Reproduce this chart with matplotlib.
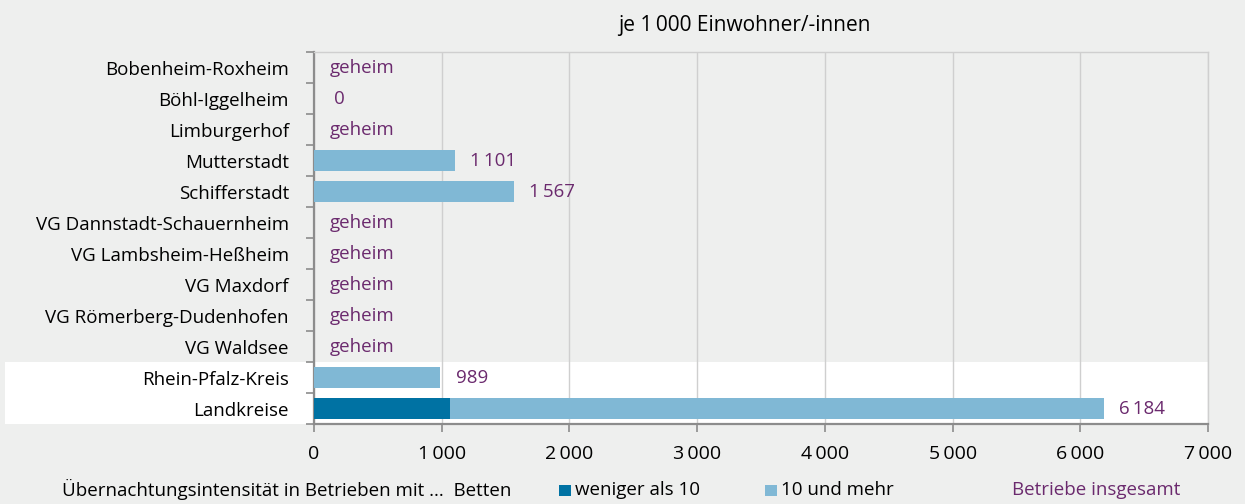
import matplotlib.pyplot as plt
from matplotlib.patches import Rectangle
from matplotlib.transforms import blended_transform_factory

plt.rcParams['font.family'] = ['Open Sans', 'DejaVu Sans']

gemeinden = ["Bobenheim-Roxheim", "Böhl-Iggelheim", "Limburgerhof", "Mutterstadt",
             "Schifferstadt", "VG Dannstadt-Schauernheim", "VG Lambsheim-Heßheim",
             "VG Maxdorf", "VG Römerberg-Dudenhofen", "VG Waldsee",
             "Rhein-Pfalz-Kreis", "Landkreise"]
# None = secret ("geheim")
unter_10 = [None, 0, None, 0, 0, None, None, None, None, None, 0, 1065]
ab_10 = [None, 0, None, 1101, 1567, None, None, None, None, None, 989, 5119]
insgesamt = [None, 0, None, 1101, 1567, None, None, None, None, None, 989, 6184]

dark = '#0072a3'
light = '#80b8d5'
purple = '#6b2a6e'
bg = '#eeefee'
grid = '#cfcfcf'
spine = '#8c8c8c'
fs = 13.5


def fmt(v):
    return f"{v:,}".replace(",", "\u2009")


fig = plt.figure(figsize=(12.45, 5.04), dpi=100, facecolor=bg)
ax = fig.add_axes([0.2522, 0.1587, 0.9703 - 0.2522, 0.8968 - 0.1587])
ax.set_facecolor('none')

y = list(range(len(gemeinden)))
left_dark = [v or 0 for v in unter_10]
ax.barh(y, left_dark, height=0.66, color=dark, zorder=3)
ax.barh(y, [v or 0 for v in ab_10], left=left_dark, height=0.66, color=light, zorder=3)

for i, total in enumerate(insgesamt):
    if total is None:
        ax.text(120, i, "geheim", va='center', ha='left', color=purple, fontsize=fs)
    elif total == 0:
        ax.text(160, i, "0", va='center', ha='left', color=purple, fontsize=fs)
    else:
        ax.text(total + 120, i, fmt(total), va='center', ha='left', color=purple, fontsize=fs)

# white band behind the district rows
band = Rectangle((0.004, 9.5), 0.9703 - 0.004, 2.0, facecolor='white', edgecolor='none',
                 transform=blended_transform_factory(fig.transFigure, ax.transData),
                 zorder=-1)
fig.patches.append(band)

ax.set_xlim(0, 7000)
ax.set_ylim(11.5, -0.5)
ax.set_xticks(range(0, 7001, 1000))
ax.set_xticklabels([fmt(v) for v in range(0, 7001, 1000)], fontsize=14)
ax.set_yticks(y)
ax.set_yticklabels(gemeinden, fontsize=fs)
ax.set_yticks([i - 0.5 for i in range(len(gemeinden) + 1)], minor=True)
ax.tick_params(axis='y', which='major', length=0, pad=18)
ax.tick_params(axis='y', which='minor', length=6, width=1.2, color=spine)
ax.tick_params(axis='x', length=6, width=1.2, color=spine, pad=9)
ax.grid(axis='x', color=grid, linewidth=1, zorder=0)
ax.set_axisbelow(True)

for side in ('left', 'bottom'):
    ax.spines[side].set_color(spine)
    ax.spines[side].set_linewidth(1.6)
for side in ('top', 'right'):
    ax.spines[side].set_color(grid)
    ax.spines[side].set_linewidth(1)

fig.text(0.598, 0.95, "je 1\u2009000 Einwohner/-innen", ha='center', va='center', fontsize=15)

# legend row
ly = 0.028
fig.text(0.05, ly, "Übernachtungsintensität in Betrieben mit ...  Betten", ha='left', va='center', fontsize=fs)
fig.patches.append(Rectangle((0.449, ly - 0.012), 0.0096, 0.0218, facecolor=dark,
                             transform=fig.transFigure))
fig.text(0.462, ly, "weniger als 10", ha='left', va='center', fontsize=fs)
fig.patches.append(Rectangle((0.6145, ly - 0.012), 0.0096, 0.0218, facecolor=light,
                             transform=fig.transFigure))
fig.text(0.627, ly, "10 und mehr", ha='left', va='center', fontsize=fs)
fig.text(0.813, ly, "Betriebe insgesamt", ha='left', va='center', fontsize=fs, color=purple)

fig.savefig("out.png", dpi=100, facecolor=bg)
